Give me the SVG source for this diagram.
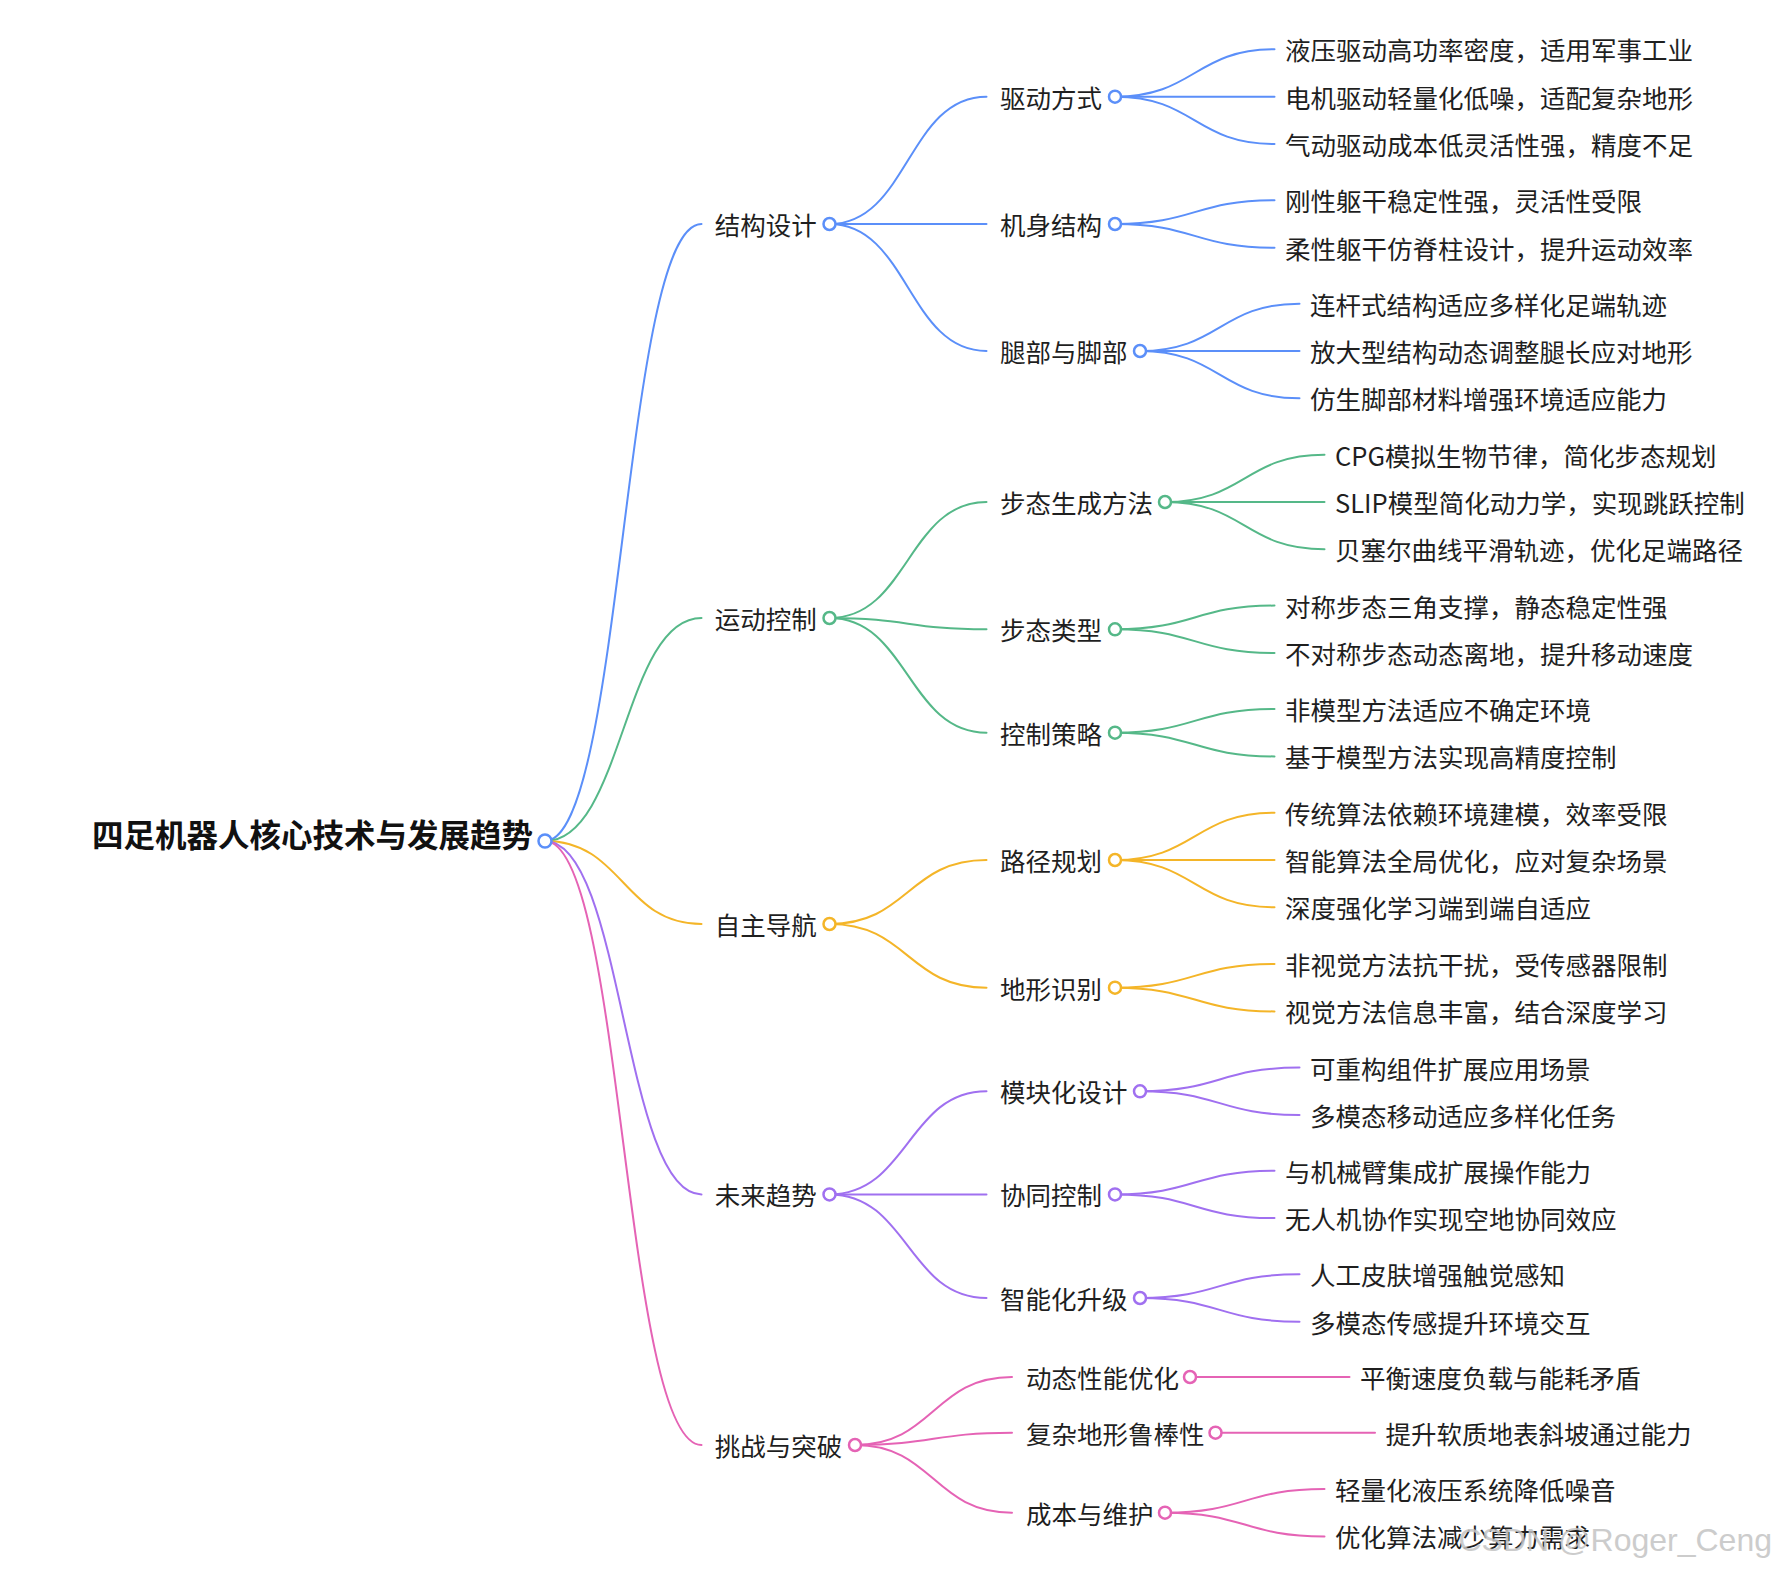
<svg xmlns="http://www.w3.org/2000/svg" width="1775" height="1571" viewBox="0 0 1775 1571">
<style>
.t{font-family:"Noto Sans CJK SC","Noto Sans",sans-serif;font-size:25.5px;fill:#1f1f1f}
.root{font-family:"Noto Sans CJK SC","Noto Sans",sans-serif;font-size:31.5px;font-weight:bold;fill:#111}
.l{fill:none;stroke-width:2;stroke-linecap:round}
.c{fill:#fff;stroke-width:2.5}
.b{stroke:#5B8FF9}.g{stroke:#55B888}.y{stroke:#F4B528}.p{stroke:#A070F0}.k{stroke:#E563B5}
.wm{font-family:"Liberation Sans",Arial,sans-serif;font-size:32px;fill:#c4c4c4;opacity:0.85}
</style>
<rect width="1775" height="1571" fill="#fff"/>
<g id="connectors">
<path class="l b" stroke-width="2.4" d="M545,841 C623.25,841 623.25,224 701.5,224"/>
<path class="l g" stroke-width="2.4" d="M545,841 C623.25,841 623.25,618 701.5,618"/>
<path class="l y" stroke-width="2.4" d="M545,841 C623.25,841 623.25,924 701.5,924"/>
<path class="l p" stroke-width="2.4" d="M545,841 C623.25,841 623.25,1194.4 701.5,1194.4"/>
<path class="l k" stroke-width="2.4" d="M545,841 C623.25,841 623.25,1445 701.5,1445"/>
<path class="l b" d="M829.5,224 C908,224 908,96.7 986.5,96.7"/>
<path class="l b" d="M829.5,224 C908,224 908,224 986.5,224"/>
<path class="l b" d="M829.5,224 C908,224 908,351 986.5,351"/>
<path class="l g" d="M829.5,618 C908,618 908,502 986.5,502"/>
<path class="l g" d="M829.5,618 C908,618 908,629.3 986.5,629.3"/>
<path class="l g" d="M829.5,618 C908,618 908,732.7 986.5,732.7"/>
<path class="l y" d="M829.5,924 C908,924 908,860 986.5,860"/>
<path class="l y" d="M829.5,924 C908,924 908,987.7 986.5,987.7"/>
<path class="l p" d="M829.5,1194.4 C908,1194.4 908,1091.3 986.5,1091.3"/>
<path class="l p" d="M829.5,1194.4 C908,1194.4 908,1194.4 986.5,1194.4"/>
<path class="l p" d="M829.5,1194.4 C908,1194.4 908,1298 986.5,1298"/>
<path class="l k" d="M855,1445 C933.5,1445 933.5,1377 1012,1377"/>
<path class="l k" d="M855,1445 C933.5,1445 933.5,1432.7 1012,1432.7"/>
<path class="l k" d="M855,1445 C933.5,1445 933.5,1512.7 1012,1512.7"/>
<path class="l b" d="M1115,96.7 C1194.75,96.7 1194.75,49.3 1274.5,49.3"/>
<path class="l b" d="M1115,96.7 C1194.75,96.7 1194.75,96.7 1274.5,96.7"/>
<path class="l b" d="M1115,96.7 C1194.75,96.7 1194.75,144 1274.5,144"/>
<path class="l b" d="M1115,224 C1194.75,224 1194.75,200.3 1274.5,200.3"/>
<path class="l b" d="M1115,224 C1194.75,224 1194.75,247.7 1274.5,247.7"/>
<path class="l b" d="M1140,351 C1219.75,351 1219.75,303.7 1299.5,303.7"/>
<path class="l b" d="M1140,351 C1219.75,351 1219.75,351 1299.5,351"/>
<path class="l b" d="M1140,351 C1219.75,351 1219.75,398.3 1299.5,398.3"/>
<path class="l g" d="M1165,502 C1244.75,502 1244.75,454.7 1324.5,454.7"/>
<path class="l g" d="M1165,502 C1244.75,502 1244.75,502 1324.5,502"/>
<path class="l g" d="M1165,502 C1244.75,502 1244.75,549.3 1324.5,549.3"/>
<path class="l g" d="M1115,629.3 C1194.75,629.3 1194.75,605.6 1274.5,605.6"/>
<path class="l g" d="M1115,629.3 C1194.75,629.3 1194.75,653 1274.5,653"/>
<path class="l g" d="M1115,732.7 C1194.75,732.7 1194.75,709 1274.5,709"/>
<path class="l g" d="M1115,732.7 C1194.75,732.7 1194.75,756.4 1274.5,756.4"/>
<path class="l y" d="M1115,860 C1194.75,860 1194.75,812.7 1274.5,812.7"/>
<path class="l y" d="M1115,860 C1194.75,860 1194.75,860 1274.5,860"/>
<path class="l y" d="M1115,860 C1194.75,860 1194.75,907.3 1274.5,907.3"/>
<path class="l y" d="M1115,987.7 C1194.75,987.7 1194.75,964 1274.5,964"/>
<path class="l y" d="M1115,987.7 C1194.75,987.7 1194.75,1011.4 1274.5,1011.4"/>
<path class="l p" d="M1140,1091.3 C1219.75,1091.3 1219.75,1067.6 1299.5,1067.6"/>
<path class="l p" d="M1140,1091.3 C1219.75,1091.3 1219.75,1115 1299.5,1115"/>
<path class="l p" d="M1115,1194.4 C1194.75,1194.4 1194.75,1170.7 1274.5,1170.7"/>
<path class="l p" d="M1115,1194.4 C1194.75,1194.4 1194.75,1218.1 1274.5,1218.1"/>
<path class="l p" d="M1140,1298 C1219.75,1298 1219.75,1274.3 1299.5,1274.3"/>
<path class="l p" d="M1140,1298 C1219.75,1298 1219.75,1321.7 1299.5,1321.7"/>
<path class="l k" d="M1190,1377 L1349.5,1377"/>
<path class="l k" d="M1215.5,1432.7 L1375,1432.7"/>
<path class="l k" d="M1165,1512.7 C1244.75,1512.7 1244.75,1489 1324.5,1489"/>
<path class="l k" d="M1165,1512.7 C1244.75,1512.7 1244.75,1536.4 1324.5,1536.4"/>
</g>

<g id="root"><text class="root" x="92" y="847">四足机器人核心技术与发展趋势</text><circle class="c b" cx="545" cy="841" r="6.5"/></g>

<g id="n-jiegou"><text class="t" x="714.7" y="235">结构设计</text><circle class="c b" cx="829.5" cy="224" r="6"/></g>
<g id="n-yundong"><text class="t" x="714.7" y="629">运动控制</text><circle class="c g" cx="829.5" cy="618" r="6"/></g>
<g id="n-daohang"><text class="t" x="714.7" y="935">自主导航</text><circle class="c y" cx="829.5" cy="924" r="6"/></g>
<g id="n-qushi"><text class="t" x="714.7" y="1205.4">未来趋势</text><circle class="c p" cx="829.5" cy="1194.4" r="6"/></g>
<g id="n-tiaozhan"><text class="t" x="714.7" y="1456">挑战与突破</text><circle class="c k" cx="855" cy="1445" r="6"/></g>

<g id="n-qudong"><text class="t" x="1000" y="107.7">驱动方式</text><circle class="c b" cx="1115" cy="96.7" r="6"/></g>
<g id="n-jishen"><text class="t" x="1000" y="235">机身结构</text><circle class="c b" cx="1115" cy="224" r="6"/></g>
<g id="n-tuibu"><text class="t" x="1000" y="362">腿部与脚部</text><circle class="c b" cx="1140" cy="351" r="6"/></g>
<g id="n-butaisc"><text class="t" x="1000" y="513">步态生成方法</text><circle class="c g" cx="1165" cy="502" r="6"/></g>
<g id="n-butailx"><text class="t" x="1000" y="640.3">步态类型</text><circle class="c g" cx="1115" cy="629.3" r="6"/></g>
<g id="n-kongzhi"><text class="t" x="1000" y="743.7">控制策略</text><circle class="c g" cx="1115" cy="732.7" r="6"/></g>
<g id="n-lujing"><text class="t" x="1000" y="871">路径规划</text><circle class="c y" cx="1115" cy="860" r="6"/></g>
<g id="n-dixing"><text class="t" x="1000" y="998.7">地形识别</text><circle class="c y" cx="1115" cy="987.7" r="6"/></g>
<g id="n-mokuai"><text class="t" x="1000" y="1102.3">模块化设计</text><circle class="c p" cx="1140" cy="1091.3" r="6"/></g>
<g id="n-xietong"><text class="t" x="1000" y="1205.4">协同控制</text><circle class="c p" cx="1115" cy="1194.4" r="6"/></g>
<g id="n-zhineng"><text class="t" x="1000" y="1309">智能化升级</text><circle class="c p" cx="1140" cy="1298" r="6"/></g>
<g id="n-dongtai"><text class="t" x="1026" y="1388">动态性能优化</text><circle class="c k" cx="1190" cy="1377" r="6"/></g>
<g id="n-fuza"><text class="t" x="1026" y="1443.7">复杂地形鲁棒性</text><circle class="c k" cx="1215.5" cy="1432.7" r="6"/></g>
<g id="n-chengben"><text class="t" x="1026" y="1523.7">成本与维护</text><circle class="c k" cx="1165" cy="1512.7" r="6"/></g>

<g id="leaf-1"><text class="t" x="1285" y="60.3">液压驱动高功率密度，适用军事工业</text></g>
<g id="leaf-2"><text class="t" x="1285" y="107.7">电机驱动轻量化低噪，适配复杂地形</text></g>
<g id="leaf-3"><text class="t" x="1285" y="155">气动驱动成本低灵活性强，精度不足</text></g>
<g id="leaf-4"><text class="t" x="1285" y="211.3">刚性躯干稳定性强，灵活性受限</text></g>
<g id="leaf-5"><text class="t" x="1285" y="258.7">柔性躯干仿脊柱设计，提升运动效率</text></g>
<g id="leaf-6"><text class="t" x="1310" y="314.7">连杆式结构适应多样化足端轨迹</text></g>
<g id="leaf-7"><text class="t" x="1310" y="362">放大型结构动态调整腿长应对地形</text></g>
<g id="leaf-8"><text class="t" x="1310" y="409.3">仿生脚部材料增强环境适应能力</text></g>
<g id="leaf-9"><text class="t" x="1335" y="465.7">CPG模拟生物节律，简化步态规划</text></g>
<g id="leaf-10"><text class="t" x="1335" y="513">SLIP模型简化动力学，实现跳跃控制</text></g>
<g id="leaf-11"><text class="t" x="1335" y="560.3">贝塞尔曲线平滑轨迹，优化足端路径</text></g>
<g id="leaf-12"><text class="t" x="1285" y="616.6">对称步态三角支撑，静态稳定性强</text></g>
<g id="leaf-13"><text class="t" x="1285" y="664">不对称步态动态离地，提升移动速度</text></g>
<g id="leaf-14"><text class="t" x="1285" y="720">非模型方法适应不确定环境</text></g>
<g id="leaf-15"><text class="t" x="1285" y="767.4">基于模型方法实现高精度控制</text></g>
<g id="leaf-16"><text class="t" x="1285" y="823.7">传统算法依赖环境建模，效率受限</text></g>
<g id="leaf-17"><text class="t" x="1285" y="871">智能算法全局优化，应对复杂场景</text></g>
<g id="leaf-18"><text class="t" x="1285" y="918.3">深度强化学习端到端自适应</text></g>
<g id="leaf-19"><text class="t" x="1285" y="975">非视觉方法抗干扰，受传感器限制</text></g>
<g id="leaf-20"><text class="t" x="1285" y="1022.4">视觉方法信息丰富，结合深度学习</text></g>
<g id="leaf-21"><text class="t" x="1310" y="1078.6">可重构组件扩展应用场景</text></g>
<g id="leaf-22"><text class="t" x="1310" y="1126">多模态移动适应多样化任务</text></g>
<g id="leaf-23"><text class="t" x="1285" y="1181.7">与机械臂集成扩展操作能力</text></g>
<g id="leaf-24"><text class="t" x="1285" y="1229.1">无人机协作实现空地协同效应</text></g>
<g id="leaf-25"><text class="t" x="1310" y="1285.3">人工皮肤增强触觉感知</text></g>
<g id="leaf-26"><text class="t" x="1310" y="1332.7">多模态传感提升环境交互</text></g>
<g id="leaf-27"><text class="t" x="1360" y="1388">平衡速度负载与能耗矛盾</text></g>
<g id="leaf-28"><text class="t" x="1385.5" y="1443.7">提升软质地表斜坡通过能力</text></g>
<g id="leaf-29"><text class="t" x="1335" y="1500">轻量化液压系统降低噪音</text></g>
<g id="leaf-30"><text class="t" x="1335" y="1547.4">优化算法减少算力需求</text></g>

<text class="wm" x="1772" y="1551" text-anchor="end">CSDN @Roger_Ceng</text>
</svg>
